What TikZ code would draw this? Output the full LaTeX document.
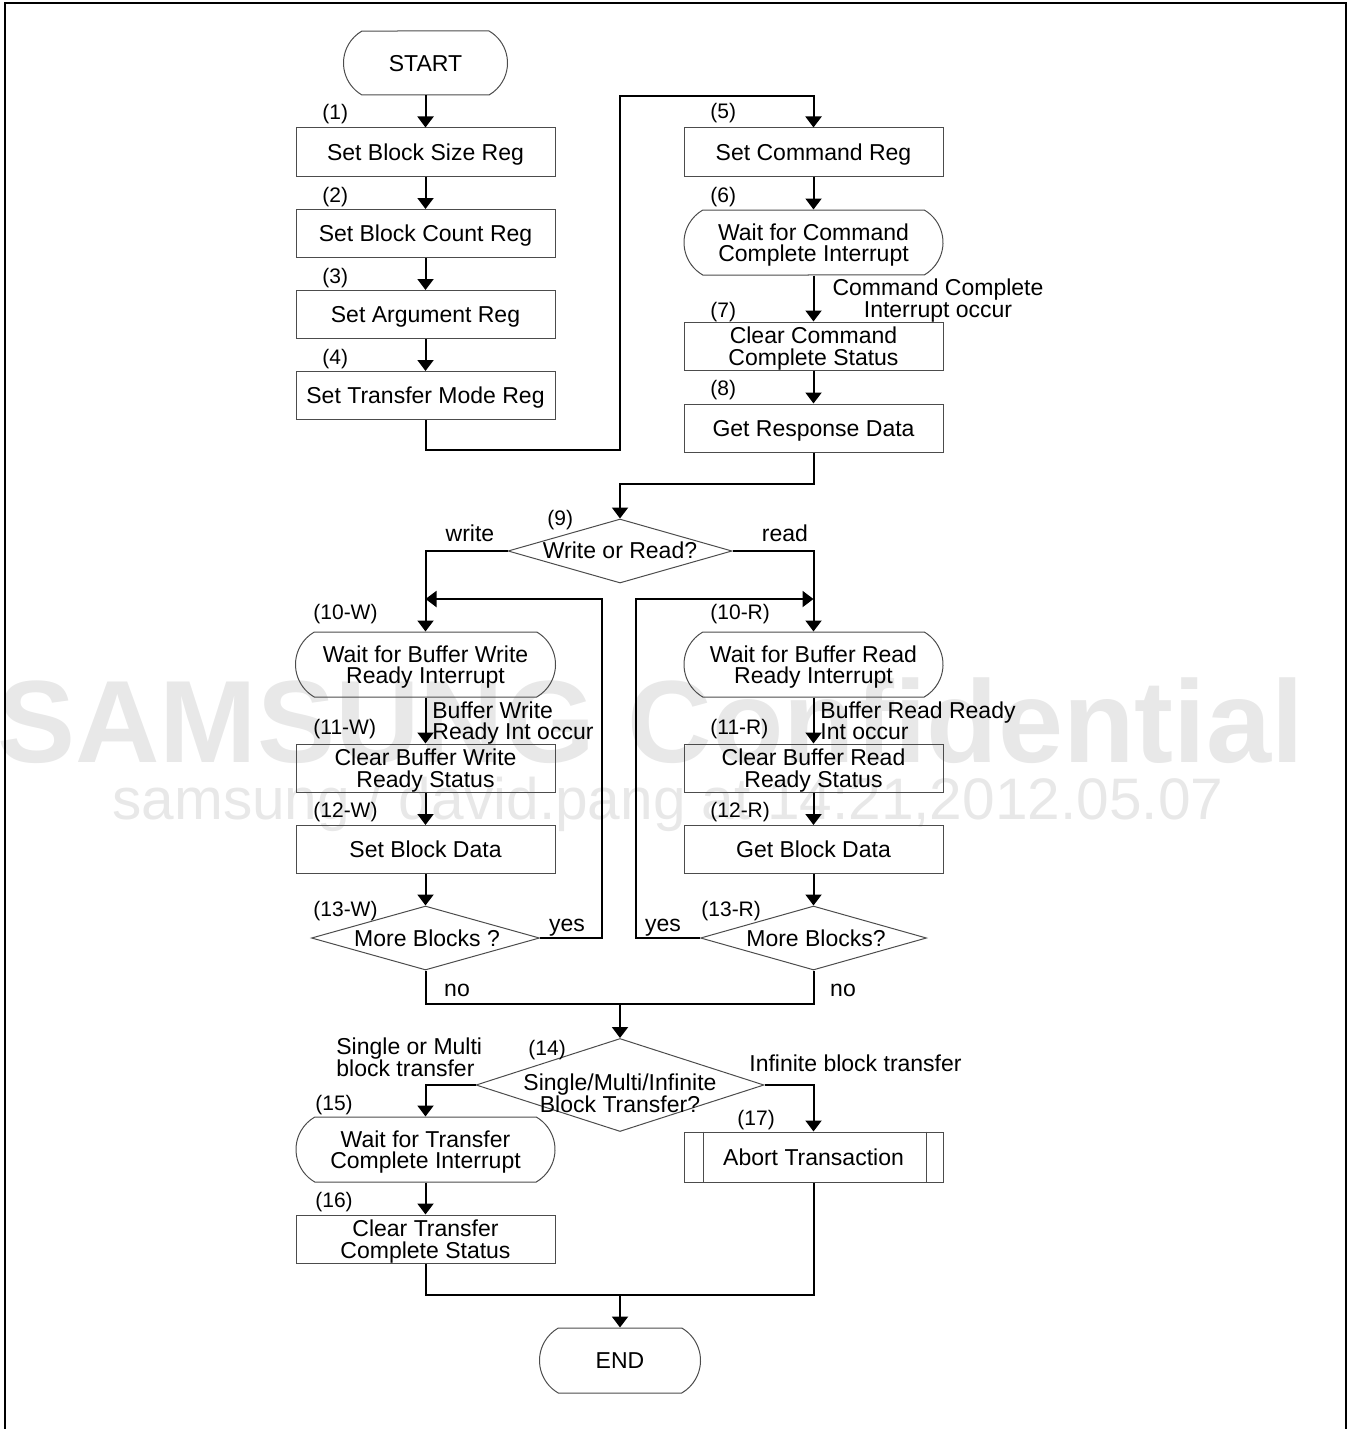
\documentclass[tikz,border=0pt]{standalone}
\usepackage{fontspec}
\setmainfont{Liberation Sans}
\usetikzlibrary{arrows.meta,shapes.geometric,shapes.misc}
\definecolor{wm}{gray}{0.91}
\definecolor{bord}{gray}{0.3}
\newcommand{\mainf}{\fontsize{11.5}{10.8}\selectfont}
\newcommand{\lblf}{\fontsize{10.5}{11}\selectfont}
\tikzset{
  box/.style={draw=bord, line width=0.5pt, rectangle, minimum width=129.5pt, minimum height=24pt, inner sep=0pt, align=center, font=\mainf, text depth=0pt},
  term/.style={draw=bord, line width=0.5pt, rounded rectangle, rounded rectangle arc length=120, inner sep=0pt, align=center, font=\mainf, text depth=0pt},
  dia/.style={draw=bord, line width=0.5pt, diamond, inner sep=0pt},
  dtext/.style={inner sep=0pt, align=center, font=\mainf, text depth=0pt},
  lbl/.style={anchor=west, inner sep=0pt, font=\lblf, text depth=0pt},
  elbl/.style={inner sep=0pt, align=left, font=\mainf, text depth=0pt},
  conn/.style={line width=1pt},
  arr/.style={conn, -{Triangle[width=8pt,length=5.5pt]}},
}
\begin{document}
\begin{tikzpicture}[x=0.5pt,y=-0.5pt]
\useasboundingbox (0,0) rectangle (1354,1429);
% watermark
\node[anchor=base west, inner sep=0pt, text=wm, font=\fontsize{58.5}{58.5}\selectfont\bfseries] (wm1) at (-3,762) {SAMSUNG Confidential};
\node[anchor=base west, inner sep=0pt, text=wm, font=\fontsize{29.3}{29.3}\selectfont] (wm2) at (112,819) {samsung / david.pang at 14:21,2012.05.07};
% frame
\draw[line width=1.3pt] (5,1429) -- (5,3) -- (1346,3) -- (1346,1429);

% left column top
\node[term, minimum width=82pt, minimum height=32pt] (start) at (425.5,63) {START};
\node[box] (b1) at (425.5,152) {Set Block Size Reg};
\node[box] (b2) at (425.5,233.5) {Set Block Count Reg};
\node[box] (b3) at (425.5,314.5) {Set Argument Reg};
\node[box] (b4) at (425.5,395.5) {Set Transfer Mode Reg};
% right column top
\node[box] (b5) at (813.5,152) {Set Command Reg};
\node[term, minimum width=129.5pt, minimum height=32.5pt] (b6) at (813.5,242.5) {Wait for Command\\Complete Interrupt};
\node[box] (b7) at (813.5,346) {Clear Command\\Complete Status};
\node[box] (b8) at (813.5,428) {Get Response Data};

% decision 9
\node[dia, minimum width=112pt, minimum height=32pt] (d9) at (620,551) {};
\node[dtext] (t9) at (620,550) {Write or Read?};

% write branch
\node[term, minimum width=130pt, minimum height=32.5pt] (b10w) at (425.5,664.5) {Wait for Buffer Write\\Ready Interrupt};
\node[box] (b11w) at (425.5,768) {Clear Buffer Write\\Ready Status};
\node[box] (b12w) at (425.5,849.5) {Set Block Data};
\node[dia, minimum width=114pt, minimum height=32pt] (d13w) at (425.5,938) {};
\node[dtext] (t13w) at (427,938) {More Blocks ?};
% read branch
\node[term, minimum width=129.5pt, minimum height=32.5pt] (b10r) at (813.5,664.5) {Wait for Buffer Read\\Ready Interrupt};
\node[box] (b11r) at (813.5,768) {Clear Buffer Read\\Ready Status};
\node[box] (b12r) at (813.5,849.5) {Get Block Data};
\node[dia, minimum width=113pt, minimum height=32pt] (d13r) at (813.5,938) {};
\node[dtext] (t13r) at (816,938) {More Blocks?};

% decision 14
\node[dia, minimum width=144pt, minimum height=46.5pt] (d14) at (620,1085) {};
\node[dtext] (t14) at (620,1093) {Single/Multi/Infinite\\Block Transfer?};
\node[term, minimum width=129.5pt, minimum height=32.5pt] (b15) at (425.5,1149.5) {Wait for Transfer\\Complete Interrupt};
\node[box] (b16) at (425.5,1239) {Clear Transfer\\Complete Status};
\node[box, minimum height=25pt] (b17) at (813.5,1157) {Abort Transaction};
\draw[draw=bord, line width=0.5pt] ([xshift=10pt]b17.north west) -- ([xshift=10pt]b17.south west);
\draw[draw=bord, line width=0.5pt] ([xshift=-8.5pt]b17.north east) -- ([xshift=-8.5pt]b17.south east);
\node[term, minimum width=80.5pt, minimum height=32.5pt] (end) at (620,1360.5) {END};

% step labels
\node[lbl] (l1) at (322,112) {(1)};
\node[lbl] (l2) at (322,195) {(2)};
\node[lbl] (l3) at (322,276) {(3)};
\node[lbl] (l4) at (322,357) {(4)};
\node[lbl] (l5) at (710,111) {(5)};
\node[lbl] (l6) at (710,195) {(6)};
\node[lbl] (l7) at (710,310) {(7)};
\node[lbl] (l8) at (710,388) {(8)};
\node[lbl] (l9) at (547,518) {(9)};
\node[lbl] (l10w) at (313,612) {(10-W)};
\node[lbl] (l10r) at (710,612) {(10-R)};
\node[lbl] (l11w) at (313,727) {(11-W)};
\node[lbl] (l11r) at (710,727) {(11-R)};
\node[lbl] (l12w) at (313,810) {(12-W)};
\node[lbl] (l12r) at (710,810) {(12-R)};
\node[lbl] (l13w) at (313,909) {(13-W)};
\node[lbl] (l13r) at (701,909) {(13-R)};
\node[lbl] (l14) at (528,1048) {(14)};
\node[lbl] (l15) at (315,1103) {(15)};
\node[lbl] (l16) at (315,1200) {(16)};
\node[lbl] (l17) at (737,1118) {(17)};

% edge labels
\node[elbl, align=center] (e6) at (938,298) {Command Complete\\Interrupt occur};
\node[elbl] (ew) at (470,533) {write};
\node[elbl] (er) at (785,533) {read};
\node[elbl, anchor=west] (e10w) at (432,720.5) {Buffer Write\\Ready Int occur};
\node[elbl, anchor=west] (e10r) at (820,720.5) {Buffer Read Ready\\Int occur};
\node[elbl] (eyw) at (567,925) {yes};
\node[elbl] (eyr) at (663,925) {yes};
\node[elbl] (enw) at (457,990) {no};
\node[elbl] (enr) at (843,990) {no};
\node[elbl, anchor=west] (e14l) at (336,1057) {Single or Multi\\block transfer};
\node[elbl, anchor=west] (e14r) at (749,1063) {Infinite block transfer};

% coordinates for routing
\coordinate (c1) at (620,450);
\coordinate (c2) at (620,96);
\coordinate (c3) at (620,484);
\coordinate (yw) at (602,599);
\coordinate (yw2) at (425.5,599);
\coordinate (yr) at (636,599);
\coordinate (yr2) at (813.5,599);
\coordinate (nw) at (425.5,1004);
\coordinate (nr) at (813.5,1004);
\coordinate (nm) at (620,1004);
\coordinate (fw) at (425.5,1295);
\coordinate (fr) at (813.5,1295);
\coordinate (fm) at (620,1295);

% connectors
\draw[arr] (start.south) -- (b1.north);
\draw[arr] (b1.south) -- (b2.north);
\draw[arr] (b2.south) -- (b3.north);
\draw[arr] (b3.south) -- (b4.north);
\draw[arr] (b4.south) |- (c1) -- (c2) -| (b5.north);
\draw[arr] (b5.south) -- (b6.north);
\draw[arr] (b6.south) -- (b7.north);
\draw[arr] (b7.south) -- (b8.north);
\draw[arr] (b8.south) |- (c3) -- (d9.north);
\draw[arr] (d9.west) -| (b10w.north);
\draw[arr] (d9.east) -| (b10r.north);
\draw[arr] (b10w.south) -- (b11w.north);
\draw[arr] (b11w.south) -- (b12w.north);
\draw[arr] (b12w.south) -- (d13w.north);
\draw[arr] (b10r.south) -- (b11r.north);
\draw[arr] (b11r.south) -- (b12r.north);
\draw[arr] (b12r.south) -- (d13r.north);
\draw[arr] (d13w.east) -| (yw) -- (yw2);
\draw[arr] (d13r.west) -| (yr) -- (yr2);
\draw[conn] (d13w.south) -- (nw) -- (nr) -- (d13r.south);
\draw[arr] (nm) -- (d14.north);
\draw[arr] (d14.west) -| (b15.north);
\draw[arr] (d14.east) -| (b17.north);
\draw[arr] (b15.south) -- (b16.north);
\draw[conn] (b16.south) -- (fw) -- (fr) -- (b17.south);
\draw[arr] (fm) -- (end.north);
\end{tikzpicture}
\end{document}
